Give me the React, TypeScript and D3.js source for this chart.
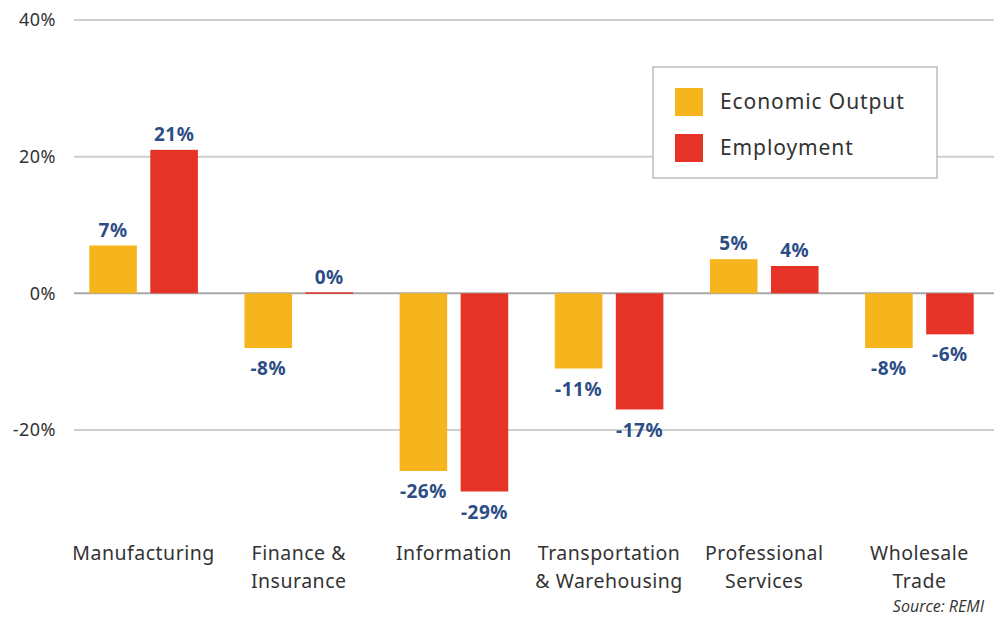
import React, { useEffect, useRef } from "react";
import * as d3 from "d3";

// chart data
const categories = [
  ["Manufacturing"],
  ["Finance &", "Insurance"],
  ["Information"],
  ["Transportation", "& Warehousing"],
  ["Professional", "Services"],
  ["Wholesale", "Trade"],
];
const seriesNames = ["Economic Output", "Employment"];
const economicOutput = [7, -8, -26, -11, 5, -8];
const employment = [21, 0, -29, -17, 4, -6];
const yTicks = [40, 20, 0, -20];

const colors = ["#F7B51D", "#E53427"];
const labelColor = "#2c4d86";
const textColor = "#333333";

const App = () => {
  const ref = useRef<SVGSVGElement>(null);

  useEffect(() => {
    const width = 994;
    const height = 618;
    const svg = d3.select(ref.current).attr("width", width).attr("height", height);
    svg.selectAll("*").remove();

    const y = d3.scaleLinear().domain([-20, 40]).range([430, 20]);

    const keys = categories.map((c) => c.join(" "));
    const x0 = d3.scaleBand<string>().domain(keys).range([66, 997]).paddingInner(0.3).paddingOuter(0.15);
    const x1 = d3.scaleBand<string>().domain(seriesNames).range([0, x0.bandwidth()]).paddingInner(0.22).paddingOuter(0);

    const font = "'Noto Sans', sans-serif";

    // gridlines
    const grid = svg.append("g");
    grid.selectAll("line")
      .data(yTicks)
      .join("line")
      .attr("x1", 74)
      .attr("x2", width)
      .attr("y1", (d) => y(d))
      .attr("y2", (d) => y(d))
      .attr("stroke", (d) => (d === 0 ? "#a8a8a8" : "#cfcfcf"))
      .attr("stroke-width", 2);

    grid.selectAll("text")
      .data(yTicks)
      .join("text")
      .attr("x", 56)
      .attr("y", (d) => y(d))
      .attr("dy", "0.35em")
      .attr("text-anchor", "end")
      .attr("font-family", font)
      .attr("font-size", 18)
      .attr("letter-spacing", 0.5)
      .attr("fill", textColor)
      .text((d) => `${d}%`);

    const rows = categories.map((c, i) => ({
      key: keys[i],
      values: [economicOutput[i], employment[i]],
    }));

    const groups = svg.append("g")
      .selectAll("g")
      .data(rows)
      .join("g")
      .attr("transform", (d) => `translate(${x0(d.key)},0)`);

    const bars = groups.selectAll("g.bar")
      .data((d) => d.values.map((v, j) => ({ name: seriesNames[j], value: v, j })))
      .join("g")
      .attr("class", "bar");

    // a zero bar still shows as a thin sliver on the baseline
    bars.append("rect")
      .attr("x", (d) => x1(d.name)!)
      .attr("width", x1.bandwidth())
      .attr("y", (d) => (d.value === 0 ? y(0) - 1 : y(Math.max(0, d.value))))
      .attr("height", (d) => Math.max(1.5, Math.abs(y(d.value) - y(0))))
      .attr("fill", (d) => colors[d.j]);

    bars.append("text")
      .attr("x", (d) => x1(d.name)! + x1.bandwidth() / 2)
      .attr("y", (d) => (d.value >= 0 ? y(d.value) - 9 : y(d.value) + 27))
      .attr("text-anchor", "middle")
      .attr("font-family", font)
      .attr("font-weight", 700)
      .attr("font-size", 19)
      .attr("letter-spacing", 0.5)
      .attr("fill", labelColor)
      .text((d) => `${d.value}%`);

    // category labels
    const catLabels = svg.append("g")
      .selectAll("text")
      .data(categories)
      .join("text")
      .attr("x", (d, i) => x0(keys[i])! + x0.bandwidth() / 2)
      .attr("y", 560)
      .attr("text-anchor", "middle")
      .attr("font-family", font)
      .attr("font-size", 19.5)
      .attr("letter-spacing", 0.5)
      .attr("fill", textColor);
    catLabels.each(function (d) {
      const t = d3.select(this);
      d.forEach((line, k) => {
        t.append("tspan")
          .attr("x", t.attr("x"))
          .attr("dy", k === 0 ? 0 : 28)
          .text(line);
      });
    });

    // legend
    const legend = svg.append("g").attr("transform", "translate(653,67)");
    legend.append("rect")
      .attr("width", 284)
      .attr("height", 111)
      .attr("fill", "white")
      .attr("stroke", "#bdbdbd")
      .attr("stroke-width", 1.5);
    const items = legend.selectAll("g")
      .data(seriesNames)
      .join("g")
      .attr("transform", (d, i) => `translate(22,${21 + i * 46})`);
    items.append("rect")
      .attr("width", 28)
      .attr("height", 28)
      .attr("fill", (d, i) => colors[i]);
    items.append("text")
      .attr("x", 45)
      .attr("y", 14)
      .attr("dy", "0.35em")
      .attr("font-family", font)
      .attr("font-size", 21)
      .attr("letter-spacing", 0.9)
      .attr("fill", textColor)
      .text((d) => d);

    svg.append("text")
      .attr("x", 984)
      .attr("y", 612)
      .attr("text-anchor", "end")
      .attr("font-family", "'Open Sans', 'Noto Sans', sans-serif")
      .attr("font-style", "italic")
      .attr("font-size", 16)
      .attr("fill", textColor)
      .text("Source: REMI");
  }, []);

  return (
    <div>
      <svg ref={ref} style={{ position: "absolute", left: 0, top: 0 }} />
    </div>
  );
};

export default App;
